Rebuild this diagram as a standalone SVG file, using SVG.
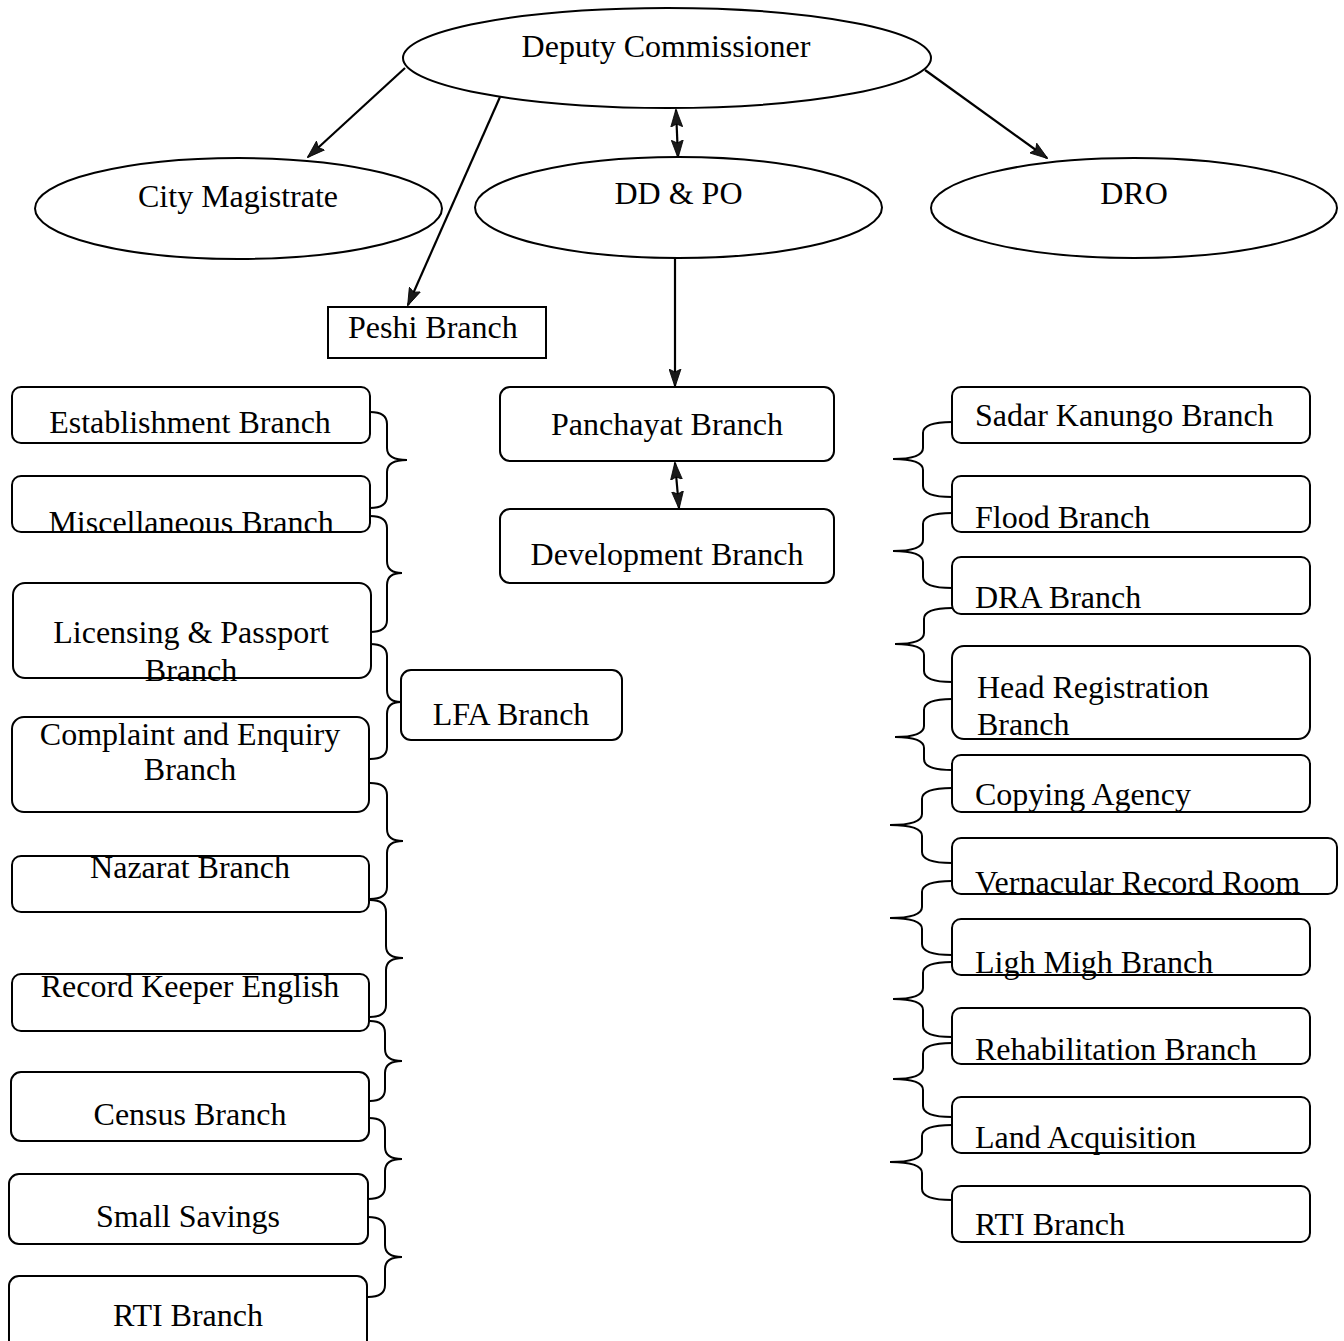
<svg xmlns="http://www.w3.org/2000/svg" width="1344" height="1341" viewBox="0 0 1344 1341">
<style>
  text { font-family: "Liberation Serif", "Times New Roman", serif; font-size: 32px; fill: #000; }
  .c { text-anchor: middle; }
  .s { text-anchor: start; }
  .shape { fill: #fff; stroke: #000; stroke-width: 2; }
  .edge { fill: none; stroke: #000; stroke-width: 2.2; }
  .brace { fill: none; stroke: #000; stroke-width: 2; }
</style>
<defs>
  <marker id="ah" viewBox="0 0 18 13" refX="17" refY="6.5" markerWidth="18" markerHeight="13" markerUnits="userSpaceOnUse" orient="auto-start-reverse">
    <path d="M0,0.5 L18,6.5 L0,12.5 L3,6.5 Z" fill="#1a1a1a" stroke="#000" stroke-width="0.8"/>
  </marker>
</defs>
<rect width="1344" height="1341" fill="#fff"/>

<!-- Top ellipses -->
<g id="deputy-commissioner"><ellipse class="shape" cx="667" cy="58" rx="264" ry="50"/><text class="c" x="666" y="57">Deputy Commissioner</text></g>
<g id="city-magistrate"><ellipse class="shape" cx="238.5" cy="208.5" rx="203.5" ry="50.5"/><text class="c" x="238" y="207">City Magistrate</text></g>
<g id="dd-po"><ellipse class="shape" cx="678.5" cy="207.5" rx="203.5" ry="50.5"/><text class="c" x="678.5" y="204">DD &amp; PO</text></g>
<g id="dro"><ellipse class="shape" cx="1134" cy="208" rx="203" ry="50"/><text class="c" x="1134" y="204">DRO</text></g>

<g id="peshi-branch"><rect class="shape" x="328" y="307" width="218" height="51"/><text class="s" x="348" y="338">Peshi Branch</text></g>
<g id="panchayat-branch"><rect class="shape" x="500" y="387" width="334" height="74" rx="10"/><text class="c" x="667" y="435">Panchayat Branch</text></g>
<g id="development-branch"><rect class="shape" x="500" y="509" width="334" height="74" rx="10"/><text class="c" x="667" y="565">Development Branch</text></g>
<g id="lfa-branch"><rect class="shape" x="401" y="670" width="221" height="70" rx="10"/><text class="c" x="511" y="725">LFA Branch</text></g>

<!-- Left column -->
<g id="establishment-branch"><rect class="shape" x="12" y="387" width="358" height="56" rx="9"/><text class="c" x="190" y="433">Establishment Branch</text></g>
<g id="miscellaneous-branch"><rect class="shape" x="12" y="476" width="358" height="56" rx="9"/><text class="c" x="191" y="533">Miscellaneous Branch</text></g>
<g id="licensing-passport-branch"><rect class="shape" x="13" y="583" width="358" height="95" rx="12"/><text class="c" x="191" y="643">Licensing &amp; Passport</text><text class="c" x="191" y="681">Branch</text></g>
<g id="complaint-enquiry-branch"><rect class="shape" x="12" y="717" width="357" height="95" rx="12"/><text class="c" x="190" y="745">Complaint and Enquiry</text><text class="c" x="190" y="780">Branch</text></g>
<g id="nazarat-branch"><rect class="shape" x="12" y="856" width="357" height="56" rx="9"/><text class="c" x="190" y="878">Nazarat Branch</text></g>
<g id="record-keeper-english"><rect class="shape" x="12" y="974" width="357" height="57" rx="9"/><text class="c" x="190" y="997">Record Keeper English</text></g>
<g id="census-branch"><rect class="shape" x="11" y="1072" width="358" height="69" rx="10"/><text class="c" x="190" y="1125">Census Branch</text></g>
<g id="small-savings"><rect class="shape" x="9" y="1174" width="359" height="70" rx="10"/><text class="c" x="188" y="1227">Small Savings</text></g>
<g id="rti-branch-left"><rect class="shape" x="9" y="1276" width="358" height="80" rx="10"/><text class="c" x="188" y="1326">RTI Branch</text></g>

<!-- Right column -->
<g id="sadar-kanungo-branch"><rect class="shape" x="952" y="387" width="358" height="56" rx="9"/><text class="s" x="975" y="426">Sadar Kanungo Branch</text></g>
<g id="flood-branch"><rect class="shape" x="952" y="476" width="358" height="56" rx="9"/><text class="s" x="975" y="528">Flood Branch</text></g>
<g id="dra-branch"><rect class="shape" x="952" y="557" width="358" height="57" rx="9"/><text class="s" x="975" y="608">DRA Branch</text></g>
<g id="head-registration-branch"><rect class="shape" x="952" y="646" width="358" height="93" rx="12"/><text class="s" x="977" y="698">Head Registration</text><text class="s" x="977" y="735">Branch</text></g>
<g id="copying-agency"><rect class="shape" x="952" y="755" width="358" height="57" rx="9"/><text class="s" x="975" y="805">Copying Agency</text></g>
<g id="vernacular-record-room"><rect class="shape" x="952" y="838" width="385" height="56" rx="9"/><text class="s" x="975" y="893">Vernacular Record Room</text></g>
<g id="ligh-migh-branch"><rect class="shape" x="952" y="919" width="358" height="56" rx="9"/><text class="s" x="975" y="973">Ligh Migh Branch</text></g>
<g id="rehabilitation-branch"><rect class="shape" x="952" y="1008" width="358" height="56" rx="9"/><text class="s" x="975" y="1060">Rehabilitation Branch</text></g>
<g id="land-acquisition"><rect class="shape" x="952" y="1097" width="358" height="56" rx="9"/><text class="s" x="975" y="1148">Land Acquisition</text></g>
<g id="rti-branch-right"><rect class="shape" x="952" y="1186" width="358" height="56" rx="9"/><text class="s" x="975" y="1235">RTI Branch</text></g>

<g id="connectors">
  <line class="edge" x1="405" y1="68" x2="308" y2="157" marker-end="url(#ah)"/>
  <line class="edge" x1="500" y1="97" x2="408" y2="305" marker-end="url(#ah)"/>
  <line class="edge" x1="676" y1="110" x2="678" y2="157" marker-start="url(#ah)" marker-end="url(#ah)"/>
  <line class="edge" x1="925" y1="70" x2="1047" y2="158" marker-end="url(#ah)"/>
  <line class="edge" x1="675" y1="258" x2="675" y2="386" marker-end="url(#ah)"/>
  <line class="edge" x1="675" y1="463" x2="679" y2="508" marker-start="url(#ah)" marker-end="url(#ah)"/>

  <!-- left braces -->
  <path class="brace" d="M370,412 Q387,412 387,424 L387,448 Q387,460 407,460 Q387,460 387,472 L387,496 Q387,508 370,508"/>
  <path class="brace" d="M370,516 Q387,516 387,528 L387,561 Q387,573 402,573 Q387,573 387,585 L387,620 Q387,632 370,632"/>
  <path class="brace" d="M370,644 Q387,644 387,656 L387,690 Q387,702 401,702 Q387,702 387,714 L387,747 Q387,759 370,759"/>
  <path class="brace" d="M370,783 Q387,783 387,795 L387,829 Q387,841 403,841 Q387,841 387,853 L387,887 Q387,899 370,899"/>
  <path class="brace" d="M370,900 Q386,900 386,912 L386,946 Q386,958 403,958 Q386,958 386,970 L386,1005 Q386,1017 370,1017"/>
  <path class="brace" d="M370,1021 Q385,1021 385,1033 L385,1049 Q385,1061 402,1061 Q385,1061 385,1073 L385,1089 Q385,1101 370,1101"/>
  <path class="brace" d="M369,1118 Q385,1118 385,1130 L385,1147 Q385,1159 402,1159 Q385,1159 385,1171 L385,1187 Q385,1199 368,1199"/>
  <path class="brace" d="M368,1217 Q385,1217 385,1229 L385,1245 Q385,1257 402,1257 Q385,1257 385,1269 L385,1285 Q385,1297 368,1297"/>

  <!-- right braces -->
  <path class="brace" d="M952,422 Q923,422 923,433 L923,448 Q923,459 893,459 Q923,459 923,470 L923,486 Q923,497 952,497"/>
  <path class="brace" d="M952,513 Q923,513 923,524 L923,540 Q923,551 893,551 Q923,551 923,562 L923,577 Q923,588 952,588"/>
  <path class="brace" d="M952,608 Q924,608 924,619 L924,633 Q924,644 895,644 Q924,644 924,655 L924,671 Q924,682 952,682"/>
  <path class="brace" d="M952,699 Q924,699 924,710 L924,726 Q924,737 895,737 Q924,737 924,748 L924,759 Q924,770 952,770"/>
  <path class="brace" d="M952,788 Q922,788 922,799 L922,814 Q922,825 890,825 Q922,825 922,836 L922,852 Q922,863 952,863"/>
  <path class="brace" d="M952,881 Q922,881 922,892 L922,907 Q922,918 890,918 Q922,918 922,929 L922,944 Q922,955 952,955"/>
  <path class="brace" d="M952,962 Q923,962 923,973 L923,988 Q923,999 893,999 Q923,999 923,1010 L923,1026 Q923,1037 952,1037"/>
  <path class="brace" d="M952,1043 Q923,1043 923,1054 L923,1068 Q923,1079 893,1079 Q923,1079 923,1090 L923,1106 Q923,1117 952,1117"/>
  <path class="brace" d="M952,1125 Q922,1125 922,1136 L922,1151 Q922,1162 890,1162 Q922,1162 922,1173 L922,1189 Q922,1200 952,1200"/>
</g>
</svg>
